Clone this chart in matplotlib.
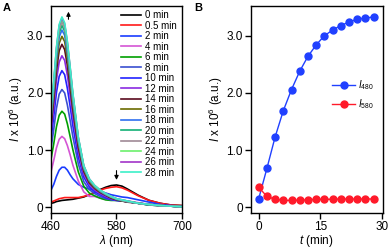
import matplotlib
matplotlib.use("Agg")
import matplotlib.pyplot as plt

plt.rcParams["font.family"] = ["Liberation Sans", "DejaVu Sans"]
plt.rcParams["mathtext.fontset"] = "custom"
plt.rcParams["mathtext.rm"] = "Liberation Sans"
plt.rcParams["mathtext.it"] = "Liberation Sans:italic"

# -----------------------------
# Panel A: emission spectra
# -----------------------------
wavelength = [460, 465, 470, 475, 480, 485, 490, 495, 500, 510, 520, 530,
              540, 550, 560, 570, 580, 590, 600, 620, 640, 660, 680, 700]

spec_0 = [0.07, 0.08, 0.10, 0.11, 0.12, 0.125, 0.13, 0.135, 0.14, 0.16, 0.18, 0.22,
          0.26, 0.31, 0.35, 0.38, 0.39, 0.37, 0.32, 0.21, 0.12, 0.07, 0.04, 0.03]
spec_05 = [0.09, 0.11, 0.13, 0.15, 0.16, 0.17, 0.17, 0.17, 0.17, 0.17, 0.19, 0.22,
           0.26, 0.30, 0.33, 0.35, 0.36, 0.34, 0.30, 0.20, 0.12, 0.07, 0.04, 0.03]
spec_2 = [0.30, 0.40, 0.54, 0.65, 0.70, 0.70, 0.65, 0.57, 0.50, 0.40, 0.35, 0.32,
          0.30, 0.28, 0.25, 0.22, 0.20, 0.18, 0.17, 0.13, 0.09, 0.05, 0.03, 0.02]
spec_4 = [0.62, 0.82, 1.04, 1.19, 1.24, 1.20, 1.08, 0.92, 0.74, 0.46, 0.27, 0.19,
          0.19, 0.16, 0.14, 0.13, 0.13, 0.12, 0.11, 0.08, 0.05, 0.03, 0.02, 0.01]
spec_6 = [0.84, 1.11, 1.41, 1.61, 1.68, 1.63, 1.46, 1.24, 1.01, 0.62, 0.37, 0.25,
          0.20, 0.16, 0.13, 0.12, 0.12, 0.11, 0.10, 0.07, 0.05, 0.03, 0.02, 0.01]
spec_8 = [1.03, 1.36, 1.73, 1.98, 2.06, 2.00, 1.79, 1.52, 1.24, 0.76, 0.45, 0.31,
          0.24, 0.19, 0.15, 0.13, 0.12, 0.11, 0.10, 0.07, 0.05, 0.03, 0.02, 0.01]
spec_10 = [1.20, 1.58, 2.01, 2.29, 2.39, 2.32, 2.08, 1.77, 1.43, 0.88, 0.53, 0.36,
           0.27, 0.22, 0.17, 0.14, 0.12, 0.11, 0.10, 0.07, 0.05, 0.03, 0.02, 0.01]
spec_12 = [1.33, 1.75, 2.23, 2.54, 2.65, 2.57, 2.31, 1.96, 1.59, 0.98, 0.58, 0.40,
           0.30, 0.24, 0.19, 0.15, 0.13, 0.11, 0.10, 0.07, 0.05, 0.03, 0.02, 0.01]
spec_14 = [1.43, 1.88, 2.39, 2.74, 2.85, 2.76, 2.48, 2.11, 1.71, 1.05, 0.63, 0.43,
           0.33, 0.26, 0.21, 0.16, 0.13, 0.11, 0.09, 0.07, 0.04, 0.03, 0.02, 0.01]
spec_16 = [1.50, 1.97, 2.51, 2.87, 2.99, 2.90, 2.60, 2.21, 1.79, 1.11, 0.66, 0.45,
           0.34, 0.27, 0.22, 0.17, 0.14, 0.11, 0.10, 0.07, 0.04, 0.03, 0.02, 0.01]
spec_18 = [1.55, 2.05, 2.60, 2.98, 3.10, 3.01, 2.70, 2.29, 1.86, 1.15, 0.68, 0.47,
           0.36, 0.28, 0.22, 0.18, 0.14, 0.12, 0.10, 0.07, 0.04, 0.03, 0.02, 0.01]
spec_20 = [1.59, 2.10, 2.67, 3.05, 3.18, 3.08, 2.77, 2.35, 1.91, 1.18, 0.70, 0.48,
           0.37, 0.29, 0.23, 0.18, 0.14, 0.12, 0.10, 0.07, 0.04, 0.03, 0.02, 0.01]
spec_22 = [1.62, 2.14, 2.72, 3.11, 3.24, 3.14, 2.82, 2.40, 1.94, 1.20, 0.71, 0.49,
           0.37, 0.29, 0.23, 0.18, 0.15, 0.12, 0.10, 0.07, 0.05, 0.03, 0.02, 0.01]
spec_24 = [1.65, 2.17, 2.76, 3.16, 3.29, 3.19, 2.86, 2.43, 1.97, 1.22, 0.72, 0.49,
           0.38, 0.30, 0.24, 0.19, 0.15, 0.13, 0.11, 0.07, 0.05, 0.03, 0.02, 0.01]
spec_26 = [1.66, 2.18, 2.78, 3.18, 3.31, 3.21, 2.88, 2.45, 1.99, 1.22, 0.73, 0.50,
           0.38, 0.30, 0.24, 0.19, 0.15, 0.13, 0.11, 0.07, 0.05, 0.03, 0.02, 0.01]
spec_28 = [1.67, 2.20, 2.80, 3.20, 3.33, 3.23, 2.90, 2.46, 2.00, 1.23, 0.73, 0.50,
           0.38, 0.30, 0.24, 0.19, 0.15, 0.13, 0.11, 0.07, 0.05, 0.03, 0.02, 0.01]

spectra = [spec_0, spec_05, spec_2, spec_4, spec_6, spec_8, spec_10, spec_12,
           spec_14, spec_16, spec_18, spec_20, spec_22, spec_24, spec_26, spec_28]
spec_labels = ["0 min", "0.5 min", "2 min", "4 min", "6 min", "8 min", "10 min",
               "12 min", "14 min", "16 min", "18 min", "20 min", "22 min",
               "24 min", "26 min", "28 min"]
spec_colors = ["#000000", "#ff1a1a", "#1a3cff", "#d455d4", "#00a000", "#3a4fd0",
               "#2222ff", "#8a2be2", "#5a0a1e", "#6b6b00", "#2f6ff0", "#13b075",
               "#a08a96", "#6cf06c", "#a235c8", "#3cf0c8"]

# -----------------------------
# Panel B: kinetics
# -----------------------------
time_min = [0, 2, 4, 6, 8, 10, 12, 14, 16, 18, 20, 22, 24, 26, 28]
i480 = [0.15, 0.68, 1.23, 1.69, 2.06, 2.38, 2.64, 2.84, 3.00, 3.10, 3.18, 3.24,
        3.29, 3.31, 3.33]
i580 = [0.35, 0.19, 0.14, 0.12, 0.12, 0.125, 0.13, 0.14, 0.14, 0.14, 0.145,
        0.145, 0.145, 0.145, 0.145]

W, H = 388, 250
fig = plt.figure(figsize=(W / 100, H / 100), dpi=100)

ax_a = fig.add_axes([51 / W, 1 - 213 / H, 131 / W, 207.5 / H])
ax_b = fig.add_axes([250.5 / W, 1 - 213 / H, 132.5 / W, 207.5 / H])

for spec, lab, col in zip(spectra, spec_labels, spec_colors):
    ax_a.plot(wavelength, spec, color=col, lw=1.2, label=lab)

ax_a.set_xlim(460, 700)
ax_a.set_ylim(-0.1, 3.53)
ax_a.set_xticks([460, 580, 700])
ax_a.set_yticks([0, 1, 2, 3])
ax_a.set_yticklabels(["0", "1.0", "2.0", "3.0"])
ax_a.set_xlabel(r"$\lambda$ (nm)", fontsize=8.5, labelpad=0)
ax_a.set_ylabel(r"$I$ x 10$^6$ (a.u.)", fontsize=8.5, labelpad=1)

ax_a.annotate("", xy=(492, 3.47), xytext=(492, 3.24),
              arrowprops=dict(arrowstyle="-|>", color="black", lw=0.8,
                              mutation_scale=6))
ax_a.annotate("", xy=(580, 0.43), xytext=(580, 0.69),
              arrowprops=dict(arrowstyle="-|>", color="black", lw=0.8,
                              mutation_scale=6))

ax_a.legend(loc="upper right", bbox_to_anchor=(1.0, 1.0), frameon=False,
            fontsize=7, handlelength=2.0, handletextpad=0.5,
            labelspacing=0.05, borderaxespad=0.3, borderpad=0.2)

ax_b.plot(time_min, i480, "-o", color="#2040ff", lw=1.0, ms=5,
          label=r"$I_{480}$")
ax_b.plot(time_min, i580, "-o", color="#ff1a2a", lw=1.0, ms=5,
          label=r"$I_{580}$")
ax_b.set_xlim(-2, 30.3)
ax_b.set_ylim(-0.1, 3.53)
ax_b.set_xticks([0, 15, 30])
ax_b.set_yticks([0, 1, 2, 3])
ax_b.set_yticklabels(["0", "1.0", "2.0", "3.0"])
ax_b.set_xlabel(r"$t$ (min)", fontsize=8.5, labelpad=0)
ax_b.set_ylabel(r"$I$ x 10$^6$ (a.u.)", fontsize=8.5, labelpad=1)
ax_b.legend(loc="center left", bbox_to_anchor=(0.55, 0.57), frameon=False,
            fontsize=7, handlelength=2.4, handletextpad=0.3,
            labelspacing=0.6)

for ax in (ax_a, ax_b):
    ax.tick_params(direction="out", length=4, width=1, labelsize=8.5, pad=1.5,
                   top=False, right=False)
    for sp in ax.spines.values():
        sp.set_linewidth(1.0)

fig.text(3 / W, 1 - 3 / H, "A", fontsize=8, fontweight="bold", va="top")
fig.text(194 / W, 1 - 3 / H, "B", fontsize=8, fontweight="bold", va="top")

fig.savefig("out.png", dpi=100)
